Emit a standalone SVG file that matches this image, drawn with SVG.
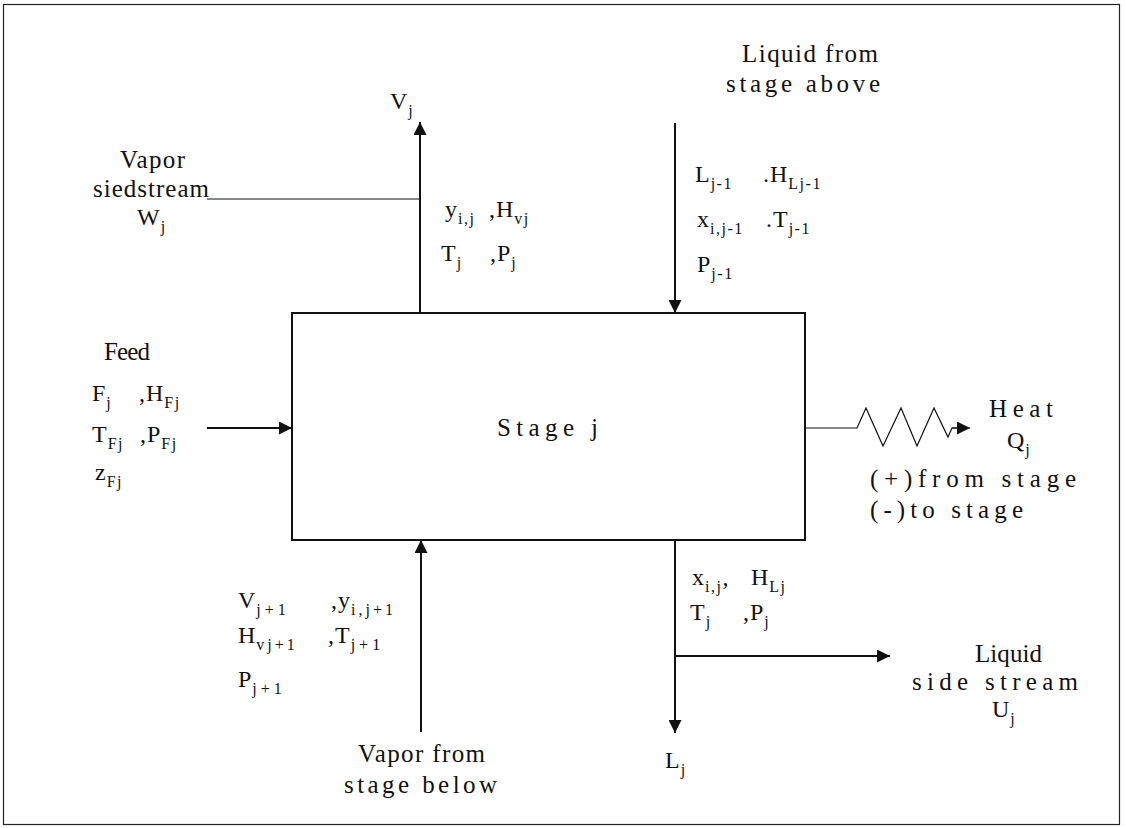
<svg xmlns="http://www.w3.org/2000/svg" width="1126" height="828" viewBox="0 0 1126 828">
<style>
text{font-family:"Liberation Serif","Times New Roman",serif;font-size:24px;fill:#111;letter-spacing:1px}
text.l{font-size:25px;letter-spacing:0}
.s{font-size:16px;letter-spacing:1.5px}
.ln{stroke:#111;stroke-width:2;fill:none}
.thin{stroke:#111;stroke-width:1.2;fill:none}
</style>
<defs>
<marker id="ah" viewBox="0 0 10 10" refX="10" refY="5" markerWidth="13" markerHeight="13" markerUnits="userSpaceOnUse" orient="auto">
<path d="M0,0 L10,5 L0,10 z" fill="#111"/>
</marker>
</defs>
<rect x="0" y="0" width="1126" height="828" fill="#fff"/>
<rect id="frame" x="3.5" y="4.5" width="1116" height="820" fill="none" stroke="#222" stroke-width="1.2"/>

<g id="stage">
<rect x="292" y="313" width="513" height="227" fill="none" stroke="#111" stroke-width="2"/>
<text class="l" x="497" y="436" textLength="101" lengthAdjust="spacing">Stage j</text>
</g>

<g id="connectors">
<line class="ln" x1="420" y1="313" x2="420" y2="122" marker-end="url(#ah)"/>
<line class="thin" x1="207" y1="199" x2="420" y2="199"/>
<line class="ln" x1="675" y1="123" x2="675" y2="313" marker-end="url(#ah)"/>
<line class="ln" x1="207" y1="428" x2="292" y2="428" marker-end="url(#ah)"/>
<line class="ln" x1="421" y1="732" x2="421" y2="540" marker-end="url(#ah)"/>
<line class="ln" x1="675" y1="540" x2="675" y2="733" marker-end="url(#ah)"/>
<line class="ln" x1="675" y1="656" x2="890" y2="656" marker-end="url(#ah)"/>
<polyline class="thin" points="805,428 857,428 866,408 883,446 901,408 917,446 934,408 948,437 952,428 958,428"/>
<line class="thin" x1="952" y1="428" x2="970" y2="428" marker-end="url(#ah)"/>
</g>

<g id="vapor-out">
<text x="390" y="109">V<tspan class="s" dy="7">j</tspan></text>
<text x="445" y="217">y<tspan class="s" dy="7">i,j</tspan></text>
<text x="489" y="217">,H<tspan class="s" dy="7">vj</tspan></text>
<text x="441" y="261">T<tspan class="s" dy="7">j</tspan></text>
<text x="490" y="261">,P<tspan class="s" dy="7">j</tspan></text>
</g>

<g id="sidestream-vapor">
<text class="l" x="120" y="168" textLength="65" lengthAdjust="spacing">Vapor</text>
<text class="l" x="93" y="197" textLength="116" lengthAdjust="spacing">siedstream</text>
<text x="137" y="225">W<tspan class="s" dy="7">j</tspan></text>
</g>

<g id="liquid-in">
<text class="l" x="742" y="62" textLength="136" lengthAdjust="spacing">Liquid from</text>
<text class="l" x="726" y="92" textLength="154" lengthAdjust="spacing">stage above</text>
<text x="695" y="182">L<tspan class="s" dy="7">j-1</tspan></text>
<text x="763" y="182">.H<tspan class="s" dy="7">Lj-1</tspan></text>
<text x="697" y="227">x<tspan class="s" dy="7">i,j-1</tspan></text>
<text x="766" y="227">.T<tspan class="s" dy="7">j-1</tspan></text>
<text x="697" y="272">P<tspan class="s" dy="7">j-1</tspan></text>
</g>

<g id="feed">
<text class="l" x="104" y="360" textLength="46" lengthAdjust="spacing">Feed</text>
<text x="92" y="401">F<tspan class="s" dy="7">j</tspan></text>
<text x="139" y="401">,H<tspan class="s" dy="7">Fj</tspan></text>
<text x="92" y="442">T<tspan class="s" dy="7">Fj</tspan></text>
<text x="140" y="442">,P<tspan class="s" dy="7">Fj</tspan></text>
<text x="95" y="480">z<tspan class="s" dy="7">Fj</tspan></text>
</g>

<g id="heat">
<text class="l" x="989" y="417" textLength="64" lengthAdjust="spacing">Heat</text>
<text x="1007" y="448">Q<tspan class="s" dy="7">j</tspan></text>
<text class="l" x="870" y="487" textLength="206" lengthAdjust="spacing">(+)from stage</text>
<text class="l" x="870" y="518" textLength="153" lengthAdjust="spacing">(-)to stage</text>
</g>

<g id="vapor-in">
<text x="238" y="608">V<tspan class="s" dy="7" style="letter-spacing:4px">j+1</tspan></text>
<text x="331" y="608">,y<tspan class="s" dy="7" style="letter-spacing:3px">i,j+1</tspan></text>
<text x="238" y="643">H<tspan class="s" dy="7" style="letter-spacing:3px">vj+1</tspan></text>
<text x="328" y="643">,T<tspan class="s" dy="7" style="letter-spacing:4px">j+1</tspan></text>
<text x="238" y="687">P<tspan class="s" dy="7" style="letter-spacing:4px">j+1</tspan></text>
<text class="l" x="358" y="762" textLength="127" lengthAdjust="spacing">Vapor from</text>
<text class="l" x="344" y="793" textLength="153" lengthAdjust="spacing">stage below</text>
</g>

<g id="liquid-out">
<text x="692" y="585">x<tspan class="s" dy="7">i,j</tspan><tspan dy="-7">,</tspan></text>
<text x="751" y="585">H<tspan class="s" dy="7">Lj</tspan></text>
<text x="690" y="620">T<tspan class="s" dy="7">j</tspan></text>
<text x="743" y="620">,P<tspan class="s" dy="7">j</tspan></text>
<text x="665" y="768">L<tspan class="s" dy="7">j</tspan></text>
</g>

<g id="sidestream-liquid">
<text class="l" x="975" y="662" textLength="67" lengthAdjust="spacing">Liquid</text>
<text class="l" x="912" y="690" textLength="166" lengthAdjust="spacing">side stream</text>
<text x="992" y="717">U<tspan class="s" dy="7">j</tspan></text>
</g>
</svg>
